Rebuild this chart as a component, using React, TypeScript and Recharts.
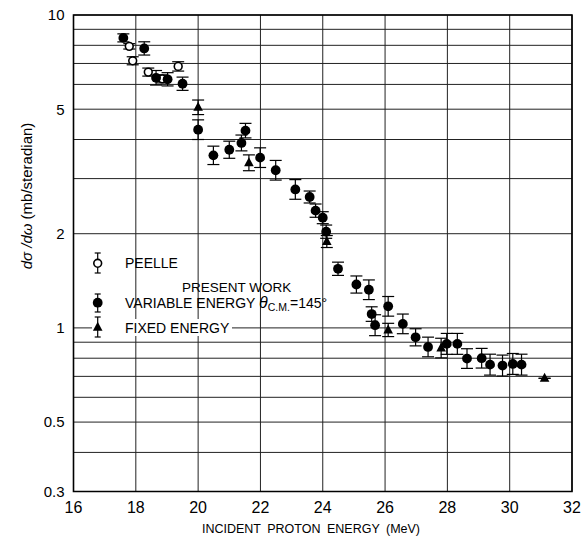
import React from 'react';
import { ScatterChart, Scatter, XAxis, YAxis, CartesianGrid, ErrorBar, ReferenceArea } from 'recharts';

const FONT = '"Liberation Sans", Arial, Helvetica, sans-serif';

// Peelle (open circles)
const peelleEnergy = [17.79, 17.9, 18.4, 18.85, 19.36];
const peelleSigma = [7.94, 7.14, 6.57, 6.25, 6.85];
const peelleErrPct = [2, 3, 3, 3, 3.5];

// Present work, variable energy (filled circles)
const varEnergy = [
    17.6, 18.27, 18.65, 19.02, 19.5, 20.0, 20.49, 21.0, 21.39, 21.52, 21.99, 22.49,
    23.12, 23.58, 23.77, 24.0, 24.11, 24.49, 25.08, 25.48, 25.57, 25.68, 26.1, 26.57,
    26.98, 27.38, 27.98, 28.32, 28.63, 29.1, 29.37, 29.77, 30.1, 30.38,
];
const varSigma = [
    8.45, 7.82, 6.3, 6.23, 6.03, 4.3, 3.56, 3.71, 3.9, 4.27, 3.5, 3.19,
    2.77, 2.62, 2.37, 2.25, 2.03, 1.545, 1.376, 1.324, 1.107, 1.02, 1.172, 1.03,
    0.933, 0.869, 0.889, 0.889, 0.798, 0.8, 0.763, 0.758, 0.767, 0.763,
];
const varErrPct = [
    3, 5, 5.5, 5, 5, 7.5, 7, 6.5, 6, 5.5, 7.5, 7.5,
    7.5, 4.5, 5, 4.5, 5, 5, 6.5, 7.5, 5.5, 8, 7.5, 7.5,
    6.5, 7.5, 8, 8, 7.5, 7.5, 8, 8, 8, 8,
];

// Present work, fixed energy (triangles)
const fixEnergy = [20.0, 21.63, 24.13, 26.1, 27.8, 31.12];
const fixSigma = [5.07, 3.37, 1.888, 0.985, 0.862, 0.69];
const fixErrPct = [5.5, 6, 4.5, 5, 7.5, 0];

const X_TICKS = [16, 18, 20, 22, 24, 26, 28, 30, 32];
const Y_GRID = [0.3, 0.4, 0.5, 0.6, 0.7, 0.8, 0.9, 1, 2, 3, 4, 5, 6, 7, 8, 9, 10];
const Y_LABELS = [0.3, 0.5, 1, 2, 5, 10];

// error bars are symmetric on the log axis
const build = (xs: number[], ys: number[], errs: number[]) =>
    xs.map((x, i) => {
        const f = 1 + errs[i] / 100;
        return { x, y: ys[i], err: [ys[i] - ys[i] / f, ys[i] * (f - 1)] };
    });

const peelle = build(peelleEnergy, peelleSigma, peelleErrPct);
const variable = build(varEnergy, varSigma, varErrPct);
const fixed = build(fixEnergy, fixSigma, fixErrPct);

const OpenCircle = (p: any) => (
    <circle cx={p.cx} cy={p.cy} r={3.9} fill="#fff" stroke="#000" strokeWidth={1.6} />
);
const FilledCircle = (p: any) => <circle cx={p.cx} cy={p.cy} r={4.9} fill="#000" />;
const Triangle = (p: any) => (
    <path d={`M${p.cx},${p.cy - 5.5} L${p.cx + 4.8},${p.cy + 3.5} L${p.cx - 4.8},${p.cy + 3.5} Z`} fill="#000" />
);

const Bar = ({ x, y1, y2 }: { x: number; y1: number; y2: number }) => (
    <g stroke="#000" strokeWidth={1.2}>
        <line x1={x} x2={x} y1={y1} y2={y2} />
        <line x1={x - 3} x2={x + 3} y1={y1} y2={y1} />
        <line x1={x - 3} x2={x + 3} y1={y2} y2={y2} />
    </g>
);

function Overlay() {
    return (
        <svg width={581} height={536} style={{ position: 'absolute', left: 0, top: 0, pointerEvents: 'none' }}>
            <g fontFamily={FONT} fill="#000">
                {/* legend */}
                <Bar x={97.7} y1={253} y2={273} />
                <circle cx={97.7} cy={263.3} r={3.9} fill="#fff" stroke="#000" strokeWidth={1.6} />
                <text x={125} y={267.5} fontSize={14}>PEELLE</text>

                <text x={182} y={291.7} fontSize={13.5}>PRESENT WORK</text>

                <Bar x={97.7} y1={294} y2={312} />
                <circle cx={97.7} cy={302.7} r={4.9} />
                <text x={125} y={308} fontSize={14}>
                    VARIABLE ENERGY{' '}
                    <tspan fontStyle="italic" fontSize={16}>θ</tspan>
                    <tspan fontSize={10.5} dy={3}>C.M.</tspan>
                    <tspan dy={-3}>=145°</tspan>
                </text>

                <rect x={92} y={319} width={140} height={17} fill="#fff" />
                <Bar x={97.7} y1={317} y2={337} />
                <path d="M97.7,321.8 L102.5,330.8 L92.9,330.8 Z" />
                <text x={125} y={332.7} fontSize={14}>FIXED ENERGY</text>

                {/* axis titles */}
                <text x={311} y={533} fontSize={12.5} textAnchor="middle" wordSpacing={3}>
                    INCIDENT PROTON ENERGY (MeV)
                </text>
                <text transform="translate(32,196) rotate(-90)" fontSize={15} textAnchor="middle">
                    <tspan fontStyle="italic">dσ /dω</tspan>
                    <tspan>  (mb/steradian)</tspan>
                </text>
            </g>
        </svg>
    );
}

export default function App() {
    return (
        <div style={{ position: 'absolute', left: 0, top: 0, width: 581, height: 536, background: '#fff' }}>
            <ScatterChart width={581} height={536} margin={{ top: 15, right: 9, bottom: 0, left: 0 }}>
                <CartesianGrid stroke="#222" strokeWidth={1} />
                <XAxis
                    type="number"
                    dataKey="x"
                    domain={[16, 32]}
                    ticks={X_TICKS}
                    height={44.5}
                    axisLine={false}
                    tickLine={false}
                    tickSize={0}
                    tickMargin={10}
                    allowDataOverflow
                    tick={{ fontSize: 16, fill: '#000', fontFamily: FONT }}
                />
                <YAxis
                    type="number"
                    dataKey="y"
                    scale="log"
                    domain={[0.3, 10]}
                    ticks={Y_GRID}
                    width={73.5}
                    axisLine={false}
                    tickLine={false}
                    tickSize={0}
                    tickMargin={9}
                    allowDataOverflow
                    interval={0}
                    tickFormatter={(v: number) => (Y_LABELS.includes(v) ? String(v) : '')}
                    tick={{ fontSize: 15, fill: '#000', fontFamily: FONT }}
                />
                <ReferenceArea x1={16} x2={32} y1={0.3} y2={10} fill="none" stroke="#000" strokeWidth={1.6} />
                <Scatter data={peelle} shape={OpenCircle} isAnimationActive={false}>
                    <ErrorBar dataKey="err" direction="y" width={6} stroke="#000" strokeWidth={1.2} />
                </Scatter>
                <Scatter data={variable} shape={FilledCircle} isAnimationActive={false}>
                    <ErrorBar dataKey="err" direction="y" width={6} stroke="#000" strokeWidth={1.2} />
                </Scatter>
                <Scatter data={fixed} shape={Triangle} isAnimationActive={false}>
                    <ErrorBar dataKey="err" direction="y" width={6} stroke="#000" strokeWidth={1.2} />
                </Scatter>
            </ScatterChart>
            <Overlay />
        </div>
    );
}
